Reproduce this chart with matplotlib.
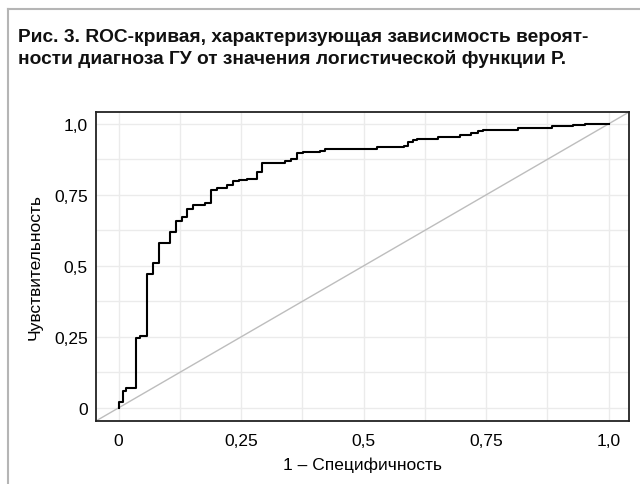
# ROC curve: probability of GU diagnosis vs logistic function P
import matplotlib.pyplot as plt
from matplotlib.lines import Line2D
import numpy as np

# step vertices of the ROC curve
fpr = [0, 0, 0.010, 0.016, 0.035, 0.044, 0.058, 0.070, 0.083, 0.106, 0.117,
       0.129, 0.140, 0.152, 0.176, 0.188, 0.200, 0.221, 0.234, 0.245, 0.262,
       0.282, 0.293, 0.340, 0.351, 0.364, 0.377, 0.412, 0.422, 0.494, 0.528,
       0.583, 0.590, 0.600, 0.610, 0.651, 0.696, 0.706, 0.720, 0.733, 0.744,
       0.815, 0.884, 0.928, 0.952, 1.0]
tpr = [0, 0.020, 0.060, 0.070, 0.246, 0.253, 0.471, 0.512, 0.582, 0.618, 0.658,
       0.674, 0.702, 0.713, 0.720, 0.767, 0.775, 0.784, 0.799, 0.803, 0.807,
       0.830, 0.861, 0.869, 0.877, 0.899, 0.902, 0.906, 0.910, 0.913, 0.918,
       0.924, 0.935, 0.945, 0.948, 0.954, 0.960, 0.962, 0.968, 0.976, 0.980,
       0.986, 0.991, 0.995, 1.0, 1.0]

tick_vals = [0, 0.25, 0.5, 0.75, 1.0]
tick_labels = ['0', '0,25', '0,5', '0,75', '1,0']

title = ('Рис. 3. ROC-кривая, характеризующая зависимость вероят-\n'
         'ности диагноза ГУ от значения логистической функции Р.')

plt.rcParams['font.family'] = ['Liberation Sans', 'DejaVu Sans']

fig = plt.figure(figsize=(6.4, 4.85), dpi=100)
ax = fig.add_axes([0.150, 0.130, 0.833, 0.637])

# card border (left and top only)
fig.add_artist(Line2D([8/640, 8/640], [0, 1 - 10/485], transform=fig.transFigure,
                      color='#b5b5b5', lw=1.5))
fig.add_artist(Line2D([8/640, 1], [1 - 10/485, 1 - 10/485], transform=fig.transFigure,
                      color='#b5b5b5', lw=1.5))

fig.text(18/640, 1 - 29/485, title, ha='left', va='top', fontsize=13.8,
         fontweight='bold', linespacing=1.3, color='#111111')

lo, hi = -0.046, 1.042
ax.plot([lo, hi], [lo, hi], color='#bdbdbd', lw=1.0, zorder=2)
ax.plot(fpr, tpr, drawstyle='steps-post', color='black', lw=1.5, zorder=3)

ax.set_xlim(lo, hi)
ax.set_ylim(lo, hi)
ax.set_xticks(tick_vals)
ax.set_xticklabels(tick_labels)
ax.set_yticks(tick_vals)
ax.set_yticklabels(tick_labels)
ax.set_xticks(np.arange(0.125, 1, 0.25), minor=True)
ax.set_yticks(np.arange(0.125, 1, 0.25), minor=True)
ax.grid(True, which='both', color='#ebebeb', lw=1.0)
ax.set_axisbelow(True)
ax.tick_params(which='both', length=0)
ax.tick_params(axis='x', pad=9, labelsize=12.5)
ax.tick_params(axis='y', pad=6, labelsize=12.5)
for s in ax.spines.values():
    s.set_color('#222222')
    s.set_linewidth(1.3)

ax.set_xlabel('1 – Специфичность', fontsize=12.5, labelpad=6)
ax.set_ylabel('Чувствительность', fontsize=12.5, labelpad=8)

fig.savefig('out.png', dpi=100)
